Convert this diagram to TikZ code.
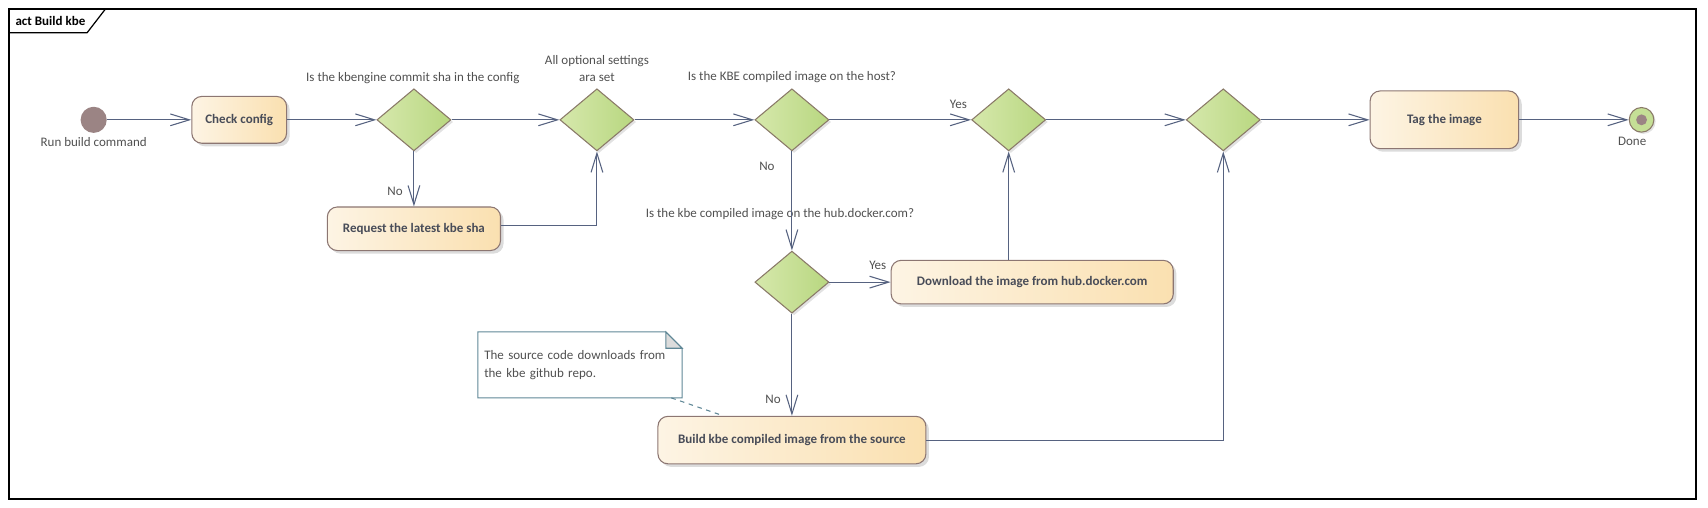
\documentclass[tikz,border=0pt]{standalone}
\usepackage{fontspec}
\setmainfont{Carlito}
\usetikzlibrary{shapes.geometric,arrows.meta,shadows}
\definecolor{flow}{RGB}{86,98,128}
\definecolor{actleft}{RGB}{253,244,228}
\definecolor{actright}{RGB}{250,224,176}
\definecolor{actborder}{RGB}{140,118,114}
\definecolor{decleft}{RGB}{214,232,172}
\definecolor{decright}{RGB}{184,215,128}
\definecolor{decborder}{RGB}{138,122,104}
\definecolor{pseudo}{RGB}{155,132,132}
\definecolor{finalfill}{RGB}{197,223,150}
\definecolor{notebd}{RGB}{95,135,150}
\definecolor{foldgray}{RGB}{220,220,220}
\definecolor{txtgray}{RGB}{80,80,80}
\definecolor{boxtxt}{RGB}{72,76,88}
\begin{document}
\begin{tikzpicture}[>={Straight Barb[length=0.44cm,width=0.27cm]},
    font=\fontsize{8.5}{11.4}\selectfont,
    conn/.style={->,draw=flow,line width=0.7pt},
    actbox/.style={rectangle,rounded corners=0.23cm,draw=actborder,line width=0.7pt,
        left color=actleft,right color=actright,text=boxtxt,font=\fontsize{8.5}{11.4}\selectfont\bfseries,
        drop shadow={shadow xshift=0.07cm,shadow yshift=-0.07cm,opacity=0.3,fill=black!45}},
    decision/.style={diamond,draw=decborder,line width=0.7pt,left color=decleft,right color=decright,
        inner sep=0pt,minimum width=1.7cm,minimum height=1.425cm,
        drop shadow={shadow xshift=0.05cm,shadow yshift=-0.05cm,opacity=0.25,fill=black!45}},
    lbl/.style={text=txtgray,inner sep=0pt},
    notebox/.style={rectangle,minimum width=4.675cm,minimum height=1.5cm,text width=4.395cm,
        inner sep=0.14cm,align=left,text=txtgray}]
        \useasboundingbox (0,0) rectangle (39.2,-11.65);
        \draw [line width=1.2pt] (0.2,-0.2) rectangle (38.925,-11.45);
        \draw [line width=0.8pt] (0.2,-0.75) -- (2.0,-0.75) -- (2.425,-0.2);
        \draw (0.35,-0.475) node (title) [anchor=west,inner sep=0pt,font=\fontsize{8.5}{11.4}\selectfont\bfseries] {act Build kbe};

        \draw (2.15,-2.75) node (start) [circle,fill=pseudo,minimum size=0.6cm,inner sep=0pt] {};
        \draw (2.15,-3.25) node (startlbl) [lbl] {Run build command};
        \draw (5.49,-2.75) node (chk) [actbox,minimum width=2.175cm,minimum height=1.075cm] {Check config};
        \draw (9.5,-2.75) node (d1) [decision] {};
        \draw (9.475,-1.8) node (q1) [lbl] {Is the kbengine commit sha in the config};
        \draw (9.5,-5.25) node (req) [actbox,minimum width=3.975cm,minimum height=1.0cm] {Request the latest kbe sha};
        \draw (13.7,-2.75) node (d2) [decision] {};
        \draw (13.7,-1.575) node (q2) [lbl,align=center] {All optional settings\\ara set};
        \draw (18.175,-2.75) node (d3) [decision] {};
        \draw (18.175,-1.775) node (q3) [lbl] {Is the KBE compiled image on the host?};
        \draw (23.15,-2.75) node (d4) [decision] {};
        \draw (18.175,-6.475) node (d5) [decision] {};
        \draw (17.9,-4.925) node (q5) [lbl] {Is the kbe compiled image on the hub.docker.com?};
        \draw (23.69,-6.475) node (dl) [actbox,minimum width=6.475cm,minimum height=1.0cm] {Download the image from hub.docker.com};
        \draw (18.175,-10.1) node (build) [actbox,minimum width=6.15cm,minimum height=1.09cm] {Build kbe compiled image from the source};
        \draw (28.075,-2.75) node (d6) [decision] {};
        \draw (33.15,-2.75) node (tag) [actbox,minimum width=3.41cm,minimum height=1.325cm] {Tag the image};
        \draw (37.675,-2.75) node (done) [circle,draw=decborder,line width=0.7pt,fill=finalfill,minimum size=0.565cm,inner sep=0pt,
            drop shadow={shadow xshift=0.04cm,shadow yshift=-0.04cm,opacity=0.25,fill=black!45}] {};
        \draw (done) node (donedot) [circle,fill=pseudo,minimum size=0.25cm,inner sep=0pt] {};
        \draw (37.46,-3.25) node (donelbl) [lbl] {Done};

        \draw (13.3125,-8.375) node (note) [notebox] {The source code downloads from\\the kbe github repo.};
        \draw [draw=notebd,line width=0.7pt] (note.north west) -- ([xshift=-0.375cm]note.north east)
            -- ([yshift=-0.375cm]note.north east) -- (note.south east) -- (note.south west) -- cycle;
        \draw [draw=notebd,line width=0.7pt,fill=foldgray] ([xshift=-0.375cm]note.north east)
            -- ([xshift=-0.375cm,yshift=-0.375cm]note.north east) -- ([yshift=-0.375cm]note.north east) -- cycle;
        \draw [dashed,draw=notebd,line width=0.7pt] ([xshift=-0.25cm]note.south east) -- ([xshift=-1.575cm]build.north);

        \draw [conn] (start) -- (chk);
        \draw [conn] (chk) -- (d1);
        \draw [conn] (d1) -- (d2);
        \draw [conn] (d1) -- node [pos=0.73,lbl,left=7pt] {No} (req);
        \draw [conn] ([yshift=0.075cm]req.east) -| (d2);
        \draw [conn] (d2) -- (d3);
        \draw [conn] (d3) -- node [pos=0.91,lbl,above=7pt] {Yes} (d4);
        \draw [conn] (d3) -- node [pos=0.15,lbl,left=11pt] {No} (d5);
        \draw [conn] (d5) -- node [pos=0.79,lbl,above=8pt] {Yes} (dl);
        \draw [conn] (d5) -- node [pos=0.84,lbl,left=7pt] {No} (build);
        \draw [conn] (d4 |- dl.north) -- (d4);
        \draw [conn] (d4) -- (d6);
        \draw [conn] (build) -| (d6);
        \draw [conn] (d6) -- (tag);
        \draw [conn] (tag) -- (done);
    \end{tikzpicture}
\end{document}
